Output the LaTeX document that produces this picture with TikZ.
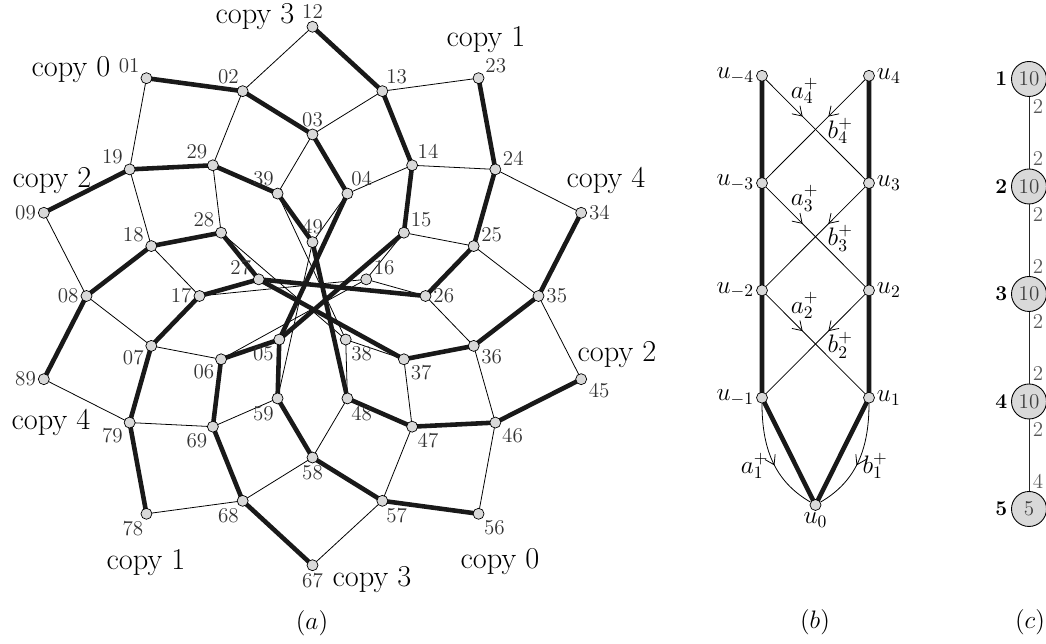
\documentclass[tikz,border=0pt]{standalone}
\usetikzlibrary{arrows.meta, positioning, backgrounds, decorations.markings}

% node name of the pair {a,b} (mod 10), digits in increasing order
\newcommand\vname[2]{%
  \pgfmathtruncatemacro\va{min(mod(#1,10),mod(#2,10))}%
  \pgfmathtruncatemacro\vb{max(mod(#1,10),mod(#2,10))}%
  \edef\vn{v\va\vb}}

% label directions that are not radial
\pgfkeys{/labang/.is family, /labang/.cd,
  34/.initial=0, 24/.initial=20, 23/.initial=35, 09/.initial=180,
  89/.initial=180, 01/.initial=147, 78/.initial=260}

\begin{document}
\begin{tikzpicture}[
  x=0.02cm, y=0.02cm,
  vtx/.style={circle, draw=black, fill=black!15, line width=0.4pt,
              inner sep=0pt, minimum size=0.22cm},
  bigvtx/.style={circle, draw=black, fill=black!15, line width=0.5pt,
                 inner sep=0pt, minimum size=0.7cm, text=black!75, font=\large},
  vlab/.style={font=\large, text=black!80, inner sep=1pt},
  graphedge/.style={line width=0.45pt},
  copyedge/.style={line width=2.6pt, black!90, line join=round},
  copylab/.style={font=\LARGE},
  sub/.style={font=\Large},
  elab/.style={text=black!65, inner sep=2pt, font=\large},
  flow/.style={line width=0.45pt, postaction={decorate},
    decoration={markings, mark=at position #1 with
      {\arrow{Straight Barb[length=5pt, width=6.5pt]}}}},
  flow/.default=0.37
]
  \path[use as bounding box, clip] (0,0) rectangle (1046,644);

  %--- (a): vertex {i,i+d} on ring d ---
  \begin{scope}[shift={(312.5,348)}, yscale=0.953]
    \foreach \i in {0,...,9}
      \foreach \d in {1,...,4} {
        \vname{\i}{\i+\d}
        \pgfmathtruncatemacro\ang{mod(144-18*(2*\i+\d)+720,360)}
        \let\lang\ang
        \pgfkeysifdefined{/labang/\va\vb}{\pgfkeysgetvalue{/labang/\va\vb}\lang}{}
        \node[vtx, label={[vlab]\lang:\va\vb}] (\vn) at (\ang:{56.5*(6-\d)}) {};
      }
    \foreach \i in {1,3,5,7,9} {
      \vname{\i}{\i+5}
      \pgfmathtruncatemacro\ang{mod(54-36*\i+720,360)}
      \node[vtx, label={[vlab]\ang:\va\vb}] (\vn) at (\ang:56.5) {};
    }
  \end{scope}

  \begin{scope}[on background layer]
    % all edges: {i,j} -- {i,j+1} and {i,j} -- {i-1,j}
    \foreach \i in {0,...,9}
      \foreach \d in {1,...,4} {
        \vname{\i}{\i+\d}\let\vfrom\vn
        \vname{\i}{\i+\d+1}\let\vup\vn
        \vname{\i+9}{\i+\d}\let\vdown\vn
        \draw[graphedge] (\vfrom.center) -- (\vup.center)
                         (\vfrom.center) -- (\vdown.center);
      }
    % the five copies
    \draw[copyedge] (v01.center) -- (v02.center) -- (v03.center) -- (v04.center)
      -- (v05.center) -- (v59.center) -- (v58.center) -- (v57.center) -- (v56.center);
    \draw[copyedge] (v23.center) -- (v24.center) -- (v25.center) -- (v26.center)
      -- (v27.center) -- (v17.center) -- (v07.center) -- (v79.center) -- (v78.center);
    \draw[copyedge] (v09.center) -- (v19.center) -- (v29.center) -- (v39.center)
      -- (v49.center) -- (v48.center) -- (v47.center) -- (v46.center) -- (v45.center);
    \draw[copyedge] (v12.center) -- (v13.center) -- (v14.center) -- (v15.center)
      -- (v05.center) -- (v06.center) -- (v69.center) -- (v68.center) -- (v67.center);
    \draw[copyedge] (v34.center) -- (v35.center) -- (v36.center) -- (v37.center)
      -- (v27.center) -- (v28.center) -- (v18.center) -- (v08.center) -- (v89.center);
  \end{scope}

  %--- copy labels ---
  \node[copylab] (cp0a) at (71,574)  {copy 0};
  \node[copylab] (cp0b) at (500,82)  {copy 0};
  \node[copylab] (cp1a) at (486,604) {copy 1};
  \node[copylab] (cp1b) at (146,81)  {copy 1};
  \node[copylab] (cp2a) at (52,463)  {copy 2};
  \node[copylab] (cp2b) at (617,289) {copy 2};
  \node[copylab] (cp3a) at (255,627) {copy 3};
  \node[copylab] (cp3b) at (372,64)  {copy 3};
  \node[copylab] (cp4a) at (606,464) {copy 4};
  \node[copylab] (cp4b) at (51,222)  {copy 4};

  %--- (b): ladder ---
  \node[vtx, label={[sub, inner sep=1pt]below:$u_0$}] (u0) at (815.5,139) {};
  \foreach \k in {1,...,4} {
    \node[vtx, label={[sub, inner sep=1pt]left:$u_{-\k}$}] (um\k) at (762,{139+107.3*\k}) {};
    \node[vtx, label={[sub, inner sep=1pt]right:$u_{\k}$}] (up\k) at (869,{139+107.3*\k}) {};
  }
  \begin{scope}[on background layer]
    \draw[copyedge] (um4.center) -- (um3.center) -- (um2.center) -- (um1.center)
      -- (u0.center) -- (up1.center) -- (up2.center) -- (up3.center) -- (up4.center);
  \end{scope}
  \foreach \k/\l in {4/3, 3/2, 2/1} {
    \draw[flow] (um\k) -- (up\l)
      node[pos=0.3, above, xshift=5pt, yshift=2pt, sub, inner sep=1pt] {$a^+_\k$};
    \draw[flow] (up\k) -- (um\l)
      node[pos=0.38, below right, sub, inner sep=0pt] {$b^+_\k$};
  }
  \draw[flow=0.55] (um1) to[out=-90, in=150]
    node[pos=0.55, left, sub] {$a^+_1$} (u0);
  \draw[flow=0.55] (up1) to[out=-90, in=30]
    node[pos=0.55, right, sub] {$b^+_1$} (u0);

  %--- (c): path of five nodes ---
  \foreach \k/\w in {1/10, 2/10, 3/10, 4/10, 5/5}
    \node[bigvtx, label={[font=\large\bfseries, inner sep=2pt]left:\k}] (c\k) at (1029,{565-107.5*(\k-1)}) {\w};
  \foreach \k/\l/\e/\f in {1/2/2/2, 2/3/2/2, 3/4/2/2, 4/5/2/4}
    \draw[line width=0.5pt, black!85] (c\k) -- (c\l)
      node[pos=0.14, right, elab] {\e}
      node[pos=0.86, right, elab] {\f};

  %--- captions ---
  \node[font=\Large] (capa) at (312,21)  {$(a)$};
  \node[font=\Large] (capb) at (815,22)  {$(b)$};
  \node[font=\Large] (capc) at (1030,22) {$(c)$};
\end{tikzpicture}
\end{document}
